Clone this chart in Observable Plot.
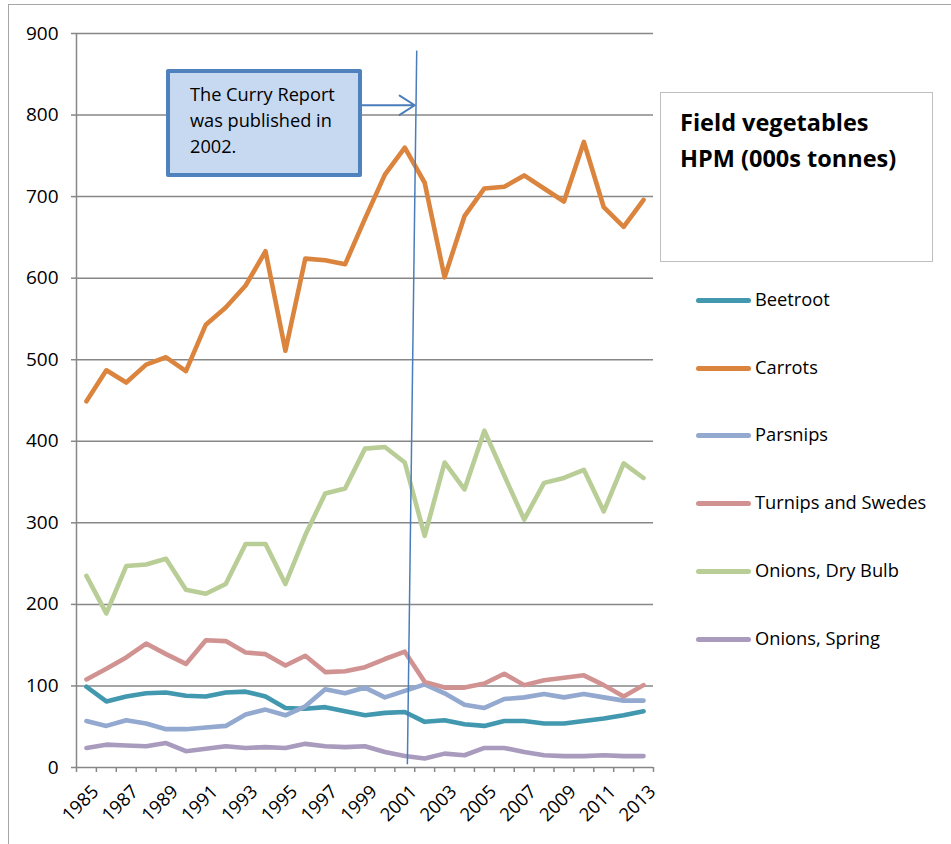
<!DOCTYPE html>
<html><head><meta charset="utf-8">
<script src="https://cdn.jsdelivr.net/npm/d3@7"></script>
<script src="https://cdn.jsdelivr.net/npm/@observablehq/plot@0.6"></script>
<style>
body{margin:0;background:#fff;font-family:"Open Sans",sans-serif;}
#wrap{position:relative;width:951px;height:844px;overflow:hidden;}
#wrap svg{position:absolute;left:0;top:0;}
.frameT{position:absolute;left:8px;top:4px;width:943px;height:0;border-top:1.5px solid #a6a6a6;}
.frameL{position:absolute;left:8px;top:4px;width:0;height:840px;border-left:1.5px solid #a6a6a6;}
#note{position:absolute;left:166px;top:69px;width:196px;height:108px;box-sizing:border-box;border:4px solid #4f81bd;border-radius:2px;background:#c6d9f1;padding:8px 0 0 20px;font-size:18.2px;line-height:26px;color:#000;white-space:nowrap;}
#legbox{position:absolute;left:660px;top:92px;width:273px;height:170px;box-sizing:border-box;border:1.5px solid #bfbfbf;}
#legtitle{position:absolute;left:680px;top:104px;font-weight:700;font-size:23.5px;line-height:36px;color:#000;white-space:nowrap;}
.item{position:absolute;left:696px;height:24px;font-size:18.3px;line-height:24px;color:#000;white-space:nowrap;}
.item span.sw{display:inline-block;width:55px;height:5px;border-radius:3px;vertical-align:middle;margin-right:4px;position:relative;top:-1px;}
</style></head><body>
<div id="wrap"></div>
<script>
const years = [1985,1986,1987,1988,1989,1990,1991,1992,1993,1994,1995,1996,1997,1998,1999,2000,2001,2002,2003,2004,2005,2006,2007,2008,2009,2010,2011,2012,2013];
const labelYears = [1985,1987,1989,1991,1993,1995,1997,1999,2001,2003,2005,2007,2009,2011,2013];
const yTicks = [0,100,200,300,400,500,600,700,800,900];
const seriesNames = ["Beetroot","Carrots","Parsnips","Turnips and Swedes","Onions, Dry Bulb","Onions, Spring"];
const seriesColors = ["#4198af","#db843d","#93a9cf","#d19392","#b9cd96","#a99bbd"];
const beetroot = [99,81,87,91,92,88,87,92,93,87,73,72,74,69,64,67,68,56,58,53,51,57,57,54,54,57,60,64,69];
const carrots  = [449,487,472,494,503,486,543,564,591,633,511,624,622,617,673,727,760,717,601,676,710,712,726,710,694,767,687,663,696];
const parsnips = [57,51,58,54,47,47,49,51,65,71,64,75,96,91,98,86,94,102,91,77,73,84,86,90,86,90,86,82,82];
const turnips  = [108,121,135,152,139,127,156,155,141,139,125,137,117,118,123,133,142,105,98,98,103,115,101,107,110,113,101,87,101];
const dryBulb  = [235,189,247,249,256,218,213,225,274,274,225,285,336,342,391,393,374,284,374,341,413,358,304,349,355,365,314,373,355];
const spring   = [24,28,27,26,30,20,23,26,24,25,24,29,26,25,26,19,14,11,17,15,24,24,19,15,14,14,15,14,14];
const noteLines = ["The Curry Report","was published in","2002."];
const legendTitle = ["Field vegetables","HPM (000s tonnes)"];

// annotation anchors (data units)
const markerLine = {x1: 2001.6, y1: 879, x2: 2001.13, y2: 4};
const noteArrow = {x1: 1998.8, y1: 812, x2: 2001.5, y2: 812};

const allValues = [beetroot, carrots, parsnips, turnips, dryBulb, spring];
const rows = [];
allValues.forEach((vals, s) => vals.forEach((v, i) => rows.push({year: years[i], value: v, name: seriesNames[s]})));
const boundaries = [years[0] - 0.5, ...years.map(y => y + 0.5)];

const chart = Plot.plot({
  width: 951, height: 844,
  marginLeft: 76, marginRight: 298, marginTop: 33, marginBottom: 77,
  style: {fontFamily: "Open Sans", fontSize: "18px", color: "#000", background: "transparent", overflow: "visible"},
  x: {domain: [boundaries[0], boundaries[boundaries.length - 1]]},
  y: {domain: [0, 900]},
  color: {domain: seriesNames, range: seriesColors},
  marks: [
    Plot.gridY(yTicks, {stroke: "#878787", strokeOpacity: 1, strokeWidth: 1.5}),
    Plot.axisY(yTicks, {tickSize: 5, tickPadding: 13, stroke: "#878787", strokeWidth: 1.5, label: null, fontSize: 19}),
    Plot.ruleX([boundaries[0]], {stroke: "#878787", strokeWidth: 1.5}),
    Plot.axisX(boundaries, {tickSize: 5, tickFormat: () => "", stroke: "#878787", strokeWidth: 1.5, label: null}),
    Plot.axisX(labelYears, {tickSize: 0, tickRotate: -45, tickPadding: 21, dx: 9, tickFormat: d => String(d), label: null, fontSize: 18.5}),
    Plot.line(rows, {x: "year", y: "value", z: "name", stroke: "name", strokeWidth: 4.6, strokeLinejoin: "round", strokeLinecap: "round"}),
    Plot.link([markerLine], {x1: "x1", y1: "y1", x2: "x2", y2: "y2", stroke: "#4a7ebb", strokeWidth: 1.5}),
    Plot.arrow([noteArrow], {x1: "x1", y1: "y1", x2: "x2", y2: "y2", stroke: "#4a7ebb", strokeWidth: 2, headLength: 17, headAngle: 65, insetEnd: 0})
  ]
});

const wrap = document.getElementById("wrap");
wrap.appendChild(chart);
const add = (cls, html, id) => { const d = document.createElement("div"); if (cls) d.className = cls; if (id) d.id = id; d.innerHTML = html || ""; wrap.appendChild(d); return d; };
add("frameT"); add("frameL");
add(null, noteLines.join("<br>"), "note");
add(null, "", "legbox");
add(null, legendTitle.join("<br>"), "legtitle");
const legendY = [299, 367, 434, 502, 570, 638];
seriesNames.forEach((n, i) => {
  const d = add("item", `<span class="sw" style="background:${seriesColors[i]}"></span>${n}`);
  d.style.top = (legendY[i] - 12) + "px";
});
</script>
</body></html>
